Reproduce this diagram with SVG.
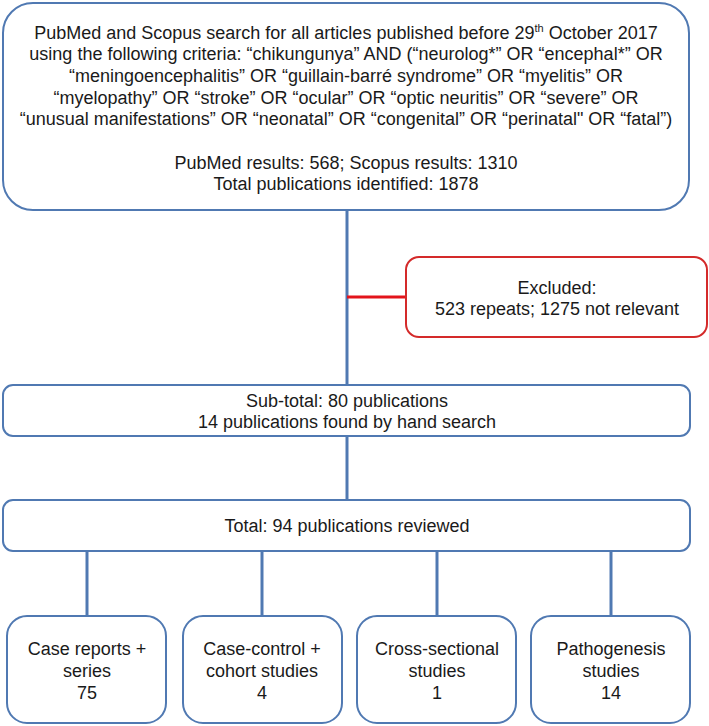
<svg xmlns="http://www.w3.org/2000/svg" width="709" height="726" viewBox="0 0 709 726">
<style>
.box{fill:#fff;stroke:#5079b2;stroke-width:2}
.red{fill:#fff;stroke:#d42a2a;stroke-width:2}
.con{stroke:#5079b2;stroke-width:3;fill:none}
.conr{stroke:#e3141b;stroke-width:3;fill:none}
text{font-family:"Liberation Sans",Arial,sans-serif;font-size:18px;fill:#1a1a1a;text-anchor:middle}
</style>
<rect width="709" height="726" fill="#fff"/>
<g id="connectors">
<line class="con" x1="347" y1="210" x2="347" y2="385"/>
<line class="conr" x1="347" y1="297" x2="406" y2="297"/>
<line class="con" x1="347" y1="436" x2="347" y2="500"/>
<line class="con" x1="87" y1="551" x2="87" y2="616"/>
<line class="con" x1="262" y1="551" x2="262" y2="616"/>
<line class="con" x1="437" y1="551" x2="437" y2="616"/>
<line class="con" x1="611" y1="551" x2="611" y2="616"/>
</g>
<g id="search">
<rect class="box" x="3" y="3" width="686" height="207" rx="30" ry="30"/>
<text x="346" y="38.5">PubMed and Scopus search for all articles published before 29<tspan font-size="11" dy="-7">th</tspan><tspan dy="7"> October 2017</tspan></text>
<text x="346" y="59.5">using the following criteria: “chikungunya” AND (“neurolog*” OR “encephal*” OR</text>
<text x="346" y="81.5">“meningoencephalitis” OR “guillain-barré syndrome” OR “myelitis” OR</text>
<text x="346" y="103.5">“myelopathy” OR “stroke” OR “ocular” OR “optic neuritis” OR “severe” OR</text>
<text x="346" y="124.5">“unusual manifestations” OR “neonatal” OR “congenital” OR “perinatal" OR “fatal”)</text>
<text x="346" y="168.5">PubMed results: 568; Scopus results: 1310</text>
<text x="346" y="189.5">Total publications identified: 1878</text>
</g>
<g id="excluded">
<rect class="red" x="406" y="257" width="301" height="80" rx="13" ry="13"/>
<text x="557" y="293.5">Excluded:</text>
<text x="557" y="314.5">523 repeats; 1275 not relevant</text>
</g>
<g id="subtotal">
<rect class="box" x="3" y="385" width="687" height="51" rx="10" ry="10"/>
<text x="347" y="406.5">Sub-total: 80 publications</text>
<text x="347" y="427.5">14 publications found by hand search</text>
</g>
<g id="total">
<rect class="box" x="3" y="500" width="687" height="51" rx="10" ry="10"/>
<text x="347" y="532">Total: 94 publications reviewed</text>
</g>
<g id="case-reports">
<rect class="box" x="7" y="616" width="159" height="107" rx="20" ry="20"/>
<text x="87" y="654.5">Case reports +</text>
<text x="87" y="676.5">series</text>
<text x="87" y="698.5">75</text>
</g>
<g id="case-control">
<rect class="box" x="183" y="616" width="159" height="107" rx="20" ry="20"/>
<text x="262" y="654.5">Case-control +</text>
<text x="262" y="676.5">cohort studies</text>
<text x="262" y="698.5">4</text>
</g>
<g id="cross-sectional">
<rect class="box" x="357" y="616" width="159" height="107" rx="20" ry="20"/>
<text x="437" y="654.5">Cross-sectional</text>
<text x="437" y="676.5">studies</text>
<text x="437" y="698.5">1</text>
</g>
<g id="pathogenesis">
<rect class="box" x="531" y="616" width="159" height="107" rx="20" ry="20"/>
<text x="611" y="654.5">Pathogenesis</text>
<text x="611" y="676.5">studies</text>
<text x="611" y="698.5">14</text>
</g>
</svg>
